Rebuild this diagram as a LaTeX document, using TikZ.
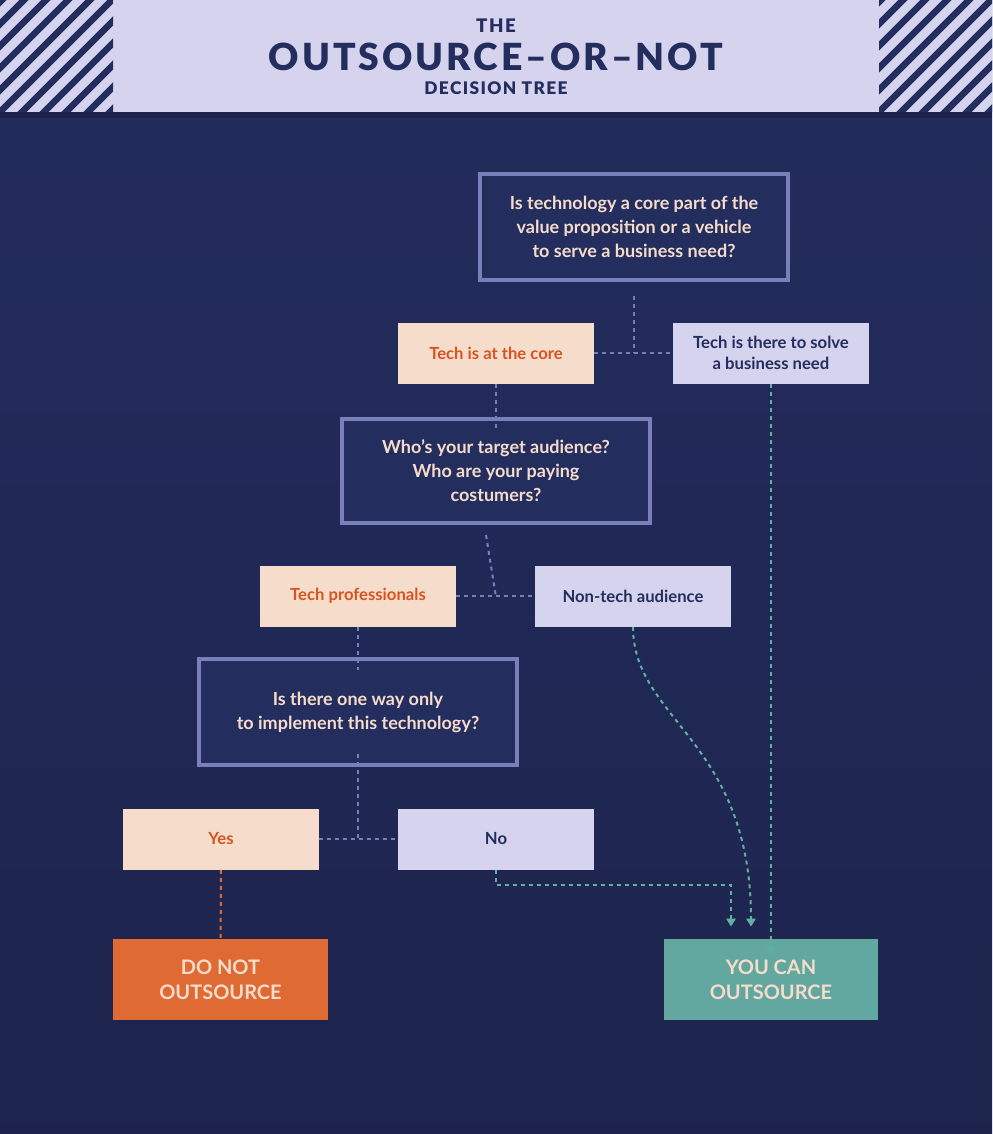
\documentclass[tikz,border=0pt]{standalone}
\usepackage{fontspec}
\setmainfont{Lato}[UprightFont=* Bold]
\newfontfamily\titlefont{Lato}[UprightFont=* Black,LetterSpace=8]
\usetikzlibrary{arrows.meta,positioning,backgrounds}
\definecolor{navy}{HTML}{232D5E}
\definecolor{navydark}{HTML}{1B2148}
\definecolor{frame}{HTML}{7A7FBA}
\definecolor{peach}{HTML}{F6DCCB}
\definecolor{rust}{HTML}{D9531E}
\definecolor{lilac}{HTML}{D6D3EE}
\definecolor{cream}{HTML}{F6DCCB}
\definecolor{orangebox}{HTML}{E06A34}
\definecolor{tealbox}{HTML}{63A8A0}
\definecolor{tealline}{HTML}{5FB0A2}
\tikzset{
  question/.style={draw=frame, line width=3pt, fill=navy, text=cream, align=center,
    minimum width=231pt, minimum height=80pt, font=\fontsize{13.5}{18}\selectfont},
  coreans/.style={fill=peach, text=rust, align=center, minimum width=147pt,
    minimum height=45.75pt, font=\fontsize{12.5}{16}\selectfont},
  needans/.style={fill=lilac, text=navy, align=center, minimum width=147pt,
    minimum height=45.75pt, font=\fontsize{12.5}{16}\selectfont},
  verdict/.style={text=cream, align=center, minimum width=161pt, minimum height=61pt,
    font=\fontsize{15}{19}\selectfont},
  link/.style={frame, dashed, line width=1.5pt},
  golink/.style={tealline, dashed, line width=1.5pt, -{Triangle[length=6pt,width=7pt]}}
}
\newcommand{\hatchshadow}[2]{% node, colour
  \fill[#2] ([shift={(-10,10)}]#1.south west) rectangle ([shift={(-10,10)}]#1.north east);
  \draw[navy, line width=2.5pt, dash pattern=on 6pt off 4pt]
    ([shift={(-5,14)}]#1.north west) -- ([shift={(-5,5)}]#1.south west)
    -- ([shift={(-14,5)}]#1.south east);}
\begin{document}
\begin{tikzpicture}[x=0.75pt, y=-0.75pt]
  \useasboundingbox (0,0) rectangle (992,1134);
  \shade[top color=navy, bottom color=navydark!80!navy] (0,0) rectangle (992,1134);
  % header
  \fill[lilac] (0,0) rectangle (992,112);
  \fill[navydark] (0,112) rectangle (992,118);
  \foreach \xo in {0,879} {
    \begin{scope}
      \clip (\xo,0) rectangle ++(113,112);
      \foreach \k in {-6,...,12}
        \draw[navy, line width=5pt] (\xo+\k*22-10,122) -- ++(140,-140);
    \end{scope}
  }
  \node[text=navy, font=\titlefont\fontsize{14}{14}\selectfont] (the) at (496,26) {THE};
  \node[text=navy, font=\titlefont\fontsize{28}{28}\selectfont] (title) at (496,57) {OUTSOURCE–OR–NOT};
  \node[text=navy, font=\titlefont\fontsize{13}{13}\selectfont] (sub) at (496,88) {DECISION TREE};
  % questions and answers
  \node[question] (q1) at (634,227) {Is technology a core part of the\\value proposition or a vehicle\\to serve a business need?};
  \node[coreans] (core) at (496,353) {Tech is at the core};
  \node[needans] (need) at (771,353) {Tech is there to solve\\a business need};
  \node[question, minimum height=78pt] (q2) at (496,471) {Who’s your target audience?\\Who are your paying\\costumers?};
  \node[coreans] (pros) at (358,596) {Tech professionals};
  \node[needans] (nontech) at (633,596) {Non-tech audience};
  \node[question, minimum width=238pt] (q3) at (358,712) {Is there one way only\\to implement this technology?};
  \node[coreans] (yes) at (221,839) {Yes};
  \node[needans] (no) at (496,839) {No};
  \node[verdict, fill=orangebox] (donot) at (220.5,979.5) {DO NOT\\OUTSOURCE};
  \node[verdict, fill=tealbox] (youcan) at (771,979.5) {YOU CAN\\OUTSOURCE};
  \begin{scope}[on background layer]
    \hatchshadow{q1}{frame}
    \hatchshadow{q2}{frame}
    \hatchshadow{q3}{frame}
    \hatchshadow{donot}{orangebox}
    \hatchshadow{youcan}{tealbox}
  \end{scope}
  % connectors
  \coordinate (j1) at (634,353);
  \coordinate (j2) at (496,597);
  \coordinate (j3) at (358,839);
  \draw[link] ([yshift=-10]q1.south) -- (j1);
  \draw[link] (core) -- (need);
  \draw[link] (core.south) -- ([yshift=-10]q2.north);
  \draw[link] ([shift={(-10,10)}]q2.south) -- (j2);
  \draw[link] (pros) -- (nontech);
  \draw[link] (pros.south) -- ([yshift=-10]q3.north);
  \draw[link] ([yshift=10]q3.south) -- (j3);
  \draw[link] (yes) -- (no);
  \draw[orangebox, dashed, line width=1.5pt, -{Triangle[length=6pt,width=7pt]}] (yes.south) -- ([yshift=-12]donot.north);
  \draw[golink] (need.south) -- ([yshift=-12]youcan.north);
  \draw[golink] (nontech.south) .. controls (633,720) and (751,740) .. ([shift={(-20,-12)}]youcan.north);
  \draw[golink] (no.south) -- ++(0,15) -| ([shift={(-40,-12)}]youcan.north);
\end{tikzpicture}
\end{document}
